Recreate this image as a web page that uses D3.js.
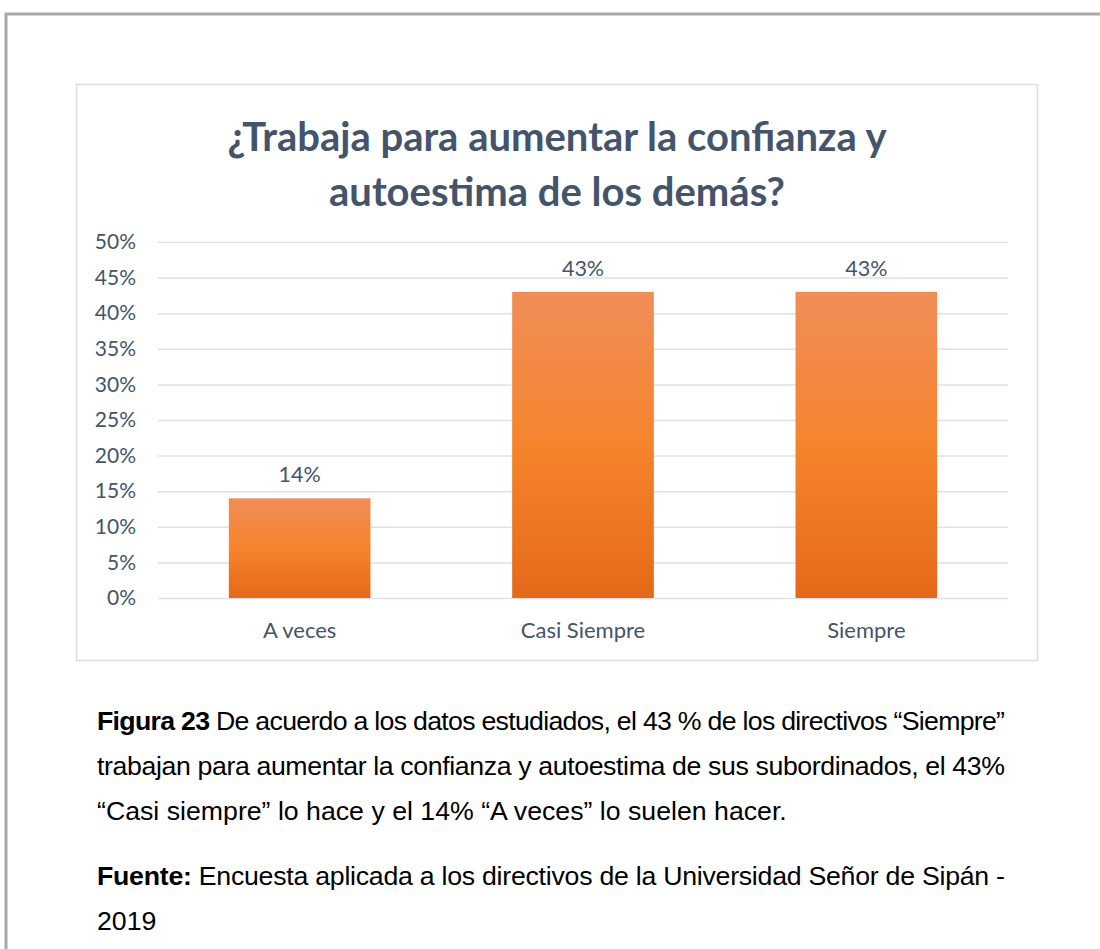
<!DOCTYPE html>
<html>
<head>
<meta charset="utf-8">
<script src="https://cdn.jsdelivr.net/npm/d3@7"></script>
<style>
  html, body { margin: 0; padding: 0; background: #fff; }
  svg { display: block; }
</style>
</head>
<body>
<div id="chart"></div>
<script>
//Datos del gráfico
const categorias = ['A veces', 'Casi Siempre', 'Siempre'];
const valores = [0.14, 0.43, 0.43];
const ticksY = [0, 0.05, 0.10, 0.15, 0.20, 0.25, 0.30, 0.35, 0.40, 0.45, 0.50];
const tituloLineas = ['¿Trabaja para aumentar la confianza y', 'autoestima de los demás?'];
const pieLineas = [
    {bold: 'Figura 23', text: ' De acuerdo a los datos estudiados, el 43 % de los directivos “Siempre”', justify: true},
    {bold: '', text: 'trabajan para aumentar la confianza y autoestima de sus subordinados, el 43%', justify: true},
    {bold: '', text: '“Casi siempre” lo hace y el 14% “A veces” lo suelen hacer.', justify: false},
    {bold: 'Fuente:', text: ' Encuesta aplicada a los directivos de la Universidad Señor de Sipán -', justify: true},
    {bold: '', text: '2019', justify: false}
];

//Colores fijos
const COLOR_TEXT = '#44546a',
COLOR_GRID = '#dde1e7',
COLOR_BOX = '#d9dee6',
COLOR_FRAME = '#a9a9a9';

const W = 1100, H = 949;
const svg = d3.select('#chart').append('svg')
    .attr('width', W)
    .attr('height', H);

//Degradado de las barras
let grad = svg.append('defs').append('linearGradient')
    .attr('id', 'barGrad')
    .attr('x1', 0).attr('y1', 0).attr('x2', 0).attr('y2', 1);
grad.append('stop').attr('offset', '0%').attr('stop-color', '#f08d58');
grad.append('stop').attr('offset', '50%').attr('stop-color', '#f5842c');
grad.append('stop').attr('offset', '100%').attr('stop-color', '#e4691a');

//Marco de la página
svg.append('path')
    .attr('d', 'M' + W + ',14 L6,14 L6,' + H)
    .attr('fill', 'none')
    .attr('stroke', COLOR_FRAME)
    .attr('stroke-width', 3);

//Caja del gráfico
svg.append('rect')
    .attr('x', 76.5).attr('y', 84.5)
    .attr('width', 961).attr('height', 576)
    .attr('fill', '#fff')
    .attr('stroke', COLOR_BOX)
    .attr('stroke-width', 1.5);

//Título
svg.append('g').selectAll('text')
    .data(tituloLineas)
    .enter()
    .append('text')
    .attr('x', 557)
    .attr('y', function(d, i) { return 151 + i * 55; })
    .attr('text-anchor', 'middle')
    .attr('font-family', 'Lato, sans-serif')
    .attr('font-weight', 'bold')
    .attr('font-size', 40)
    .attr('fill', COLOR_TEXT)
    .text(function(d) { return d; });

let margin = {top: 242, left: 158, right: 1008, bottom: 598};

//Eje X
let x = d3.scaleBand()
    .domain(categorias)
    .range([margin.left, margin.right])
    .padding(0);

//Eje Y
let y = d3.scaleLinear()
    .domain([0, 0.5])
    .range([margin.bottom, margin.top]);

let fmt = d3.format('.0%');

//Rejilla
svg.append('g')
    .attr('transform', 'translate(' + margin.left + ',0)')
    .call(d3.axisLeft(y).tickValues(ticksY).tickSize(-(margin.right - margin.left)).tickFormat(fmt).tickPadding(22))
    .call(function(g) {
        g.select('.domain').remove();
        g.selectAll('.tick line').attr('stroke', COLOR_GRID).attr('stroke-width', 1.5);
        g.selectAll('.tick text')
            .attr('fill', COLOR_TEXT)
            .attr('font-family', 'Lato, sans-serif')
            .attr('font-size', 21);
    });

//Barras
let barW = x.bandwidth() * 0.5;
svg.append('g').selectAll('rect')
    .data(valores)
    .enter()
    .append('rect')
    .attr('x', function(d, i) { return x(categorias[i]) + (x.bandwidth() - barW) / 2; })
    .attr('y', function(d) { return y(d); })
    .attr('width', barW)
    .attr('height', function(d) { return y(0) - y(d); })
    .attr('fill', 'url(#barGrad)');

//Etiquetas de datos
svg.append('g').selectAll('text')
    .data(valores)
    .enter()
    .append('text')
    .attr('x', function(d, i) { return x(categorias[i]) + x.bandwidth() / 2; })
    .attr('y', function(d) { return y(d) - 16; })
    .attr('text-anchor', 'middle')
    .attr('font-family', 'Lato, sans-serif')
    .attr('font-size', 21.5)
    .attr('fill', COLOR_TEXT)
    .text(function(d) { return fmt(d); });

//Eje X etiquetas
svg.append('g')
    .attr('transform', 'translate(0,' + margin.bottom + ')')
    .call(d3.axisBottom(x).tickSize(0).tickPadding(24))
    .call(function(g) {
        g.select('.domain').remove();
        g.selectAll('.tick text')
            .attr('fill', COLOR_TEXT)
            .attr('font-family', 'Lato, sans-serif')
            .attr('font-size', 22);
    });

//Pie de figura
let pie = svg.append('g');
let pieX0 = 97, pieX1 = 1005;
pieLineas.forEach(function(l, i) {
    let yy = [730, 775, 820, 885, 930][i];
    let t = pie.append('text')
        .attr('x', pieX0)
        .attr('y', yy)
        .attr('font-family', '"Liberation Sans", Arial, sans-serif')
        .attr('font-size', 26.7)
        .attr('fill', '#000');
    if (l.bold) t.append('tspan').attr('font-weight', 'bold').text(l.bold);
    t.append('tspan').text(l.text);
    if (l.justify) {
        let full = l.bold + l.text;
        let spaces = (full.match(/ /g) || []).length;
        let len = t.node().getComputedTextLength();
        if (len > pieX1 - pieX0) {
            //línea demasiado larga: se comprime todo el texto
            t.attr('textLength', pieX1 - pieX0).attr('lengthAdjust', 'spacing');
        } else {
            t.style('word-spacing', ((pieX1 - pieX0 - len) / spaces) + 'px');
        }
    }
});
</script>
</body>
</html>
